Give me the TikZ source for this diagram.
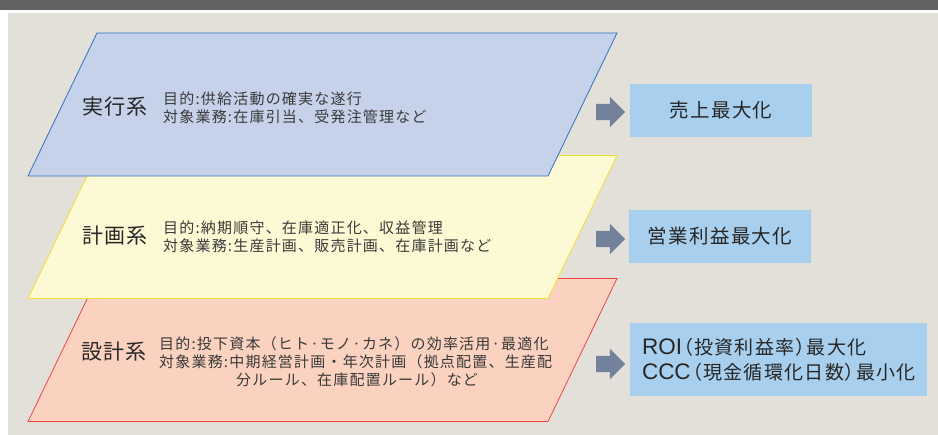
\documentclass[tikz,border=0pt]{standalone}
\usepackage{fontspec}
\setmainfont{Noto Sans CJK JP}
\newfontfamily\titlefont[LetterSpace=6]{Noto Sans CJK JP}
\newfontfamily\detailfont[LetterSpace=8]{Noto Sans CJK JP}
\newfontfamily\goalfont[LetterSpace=7,RawFeature=+palt]{Noto Sans CJK JP}
\newfontfamily\latinfont{Liberation Sans}
\usetikzlibrary{shapes.arrows}

\definecolor{barGray}{HTML}{626262}
\definecolor{panelBg}{HTML}{E3E0DA}
\definecolor{execFill}{HTML}{C5D2E9}
\definecolor{execLine}{HTML}{2C73C2}
\definecolor{planFill}{HTML}{FEF9D5}
\definecolor{planLine}{HTML}{F2E030}
\definecolor{designFill}{HTML}{FBD2C0}
\definecolor{designLine}{HTML}{EC4747}
\definecolor{arrowGray}{HTML}{74819A}
\definecolor{goalBlue}{HTML}{A8CFEE}
\definecolor{inkDark}{HTML}{262626}
\definecolor{inkSoft}{HTML}{3A3A3A}

\newcommand{\lat}[1]{{\latinfont\fontsize{22.5}{25}\selectfont #1}\kern1.5pt}

\begin{document}
\begin{tikzpicture}[
	x=1pt, y=-1pt,
	layer/.style={line width=0.8pt},
	title/.style={anchor=west, inner sep=0pt, text=inkDark,
		font=\titlefont\fontsize{21}{24}\selectfont},
	detail/.style={anchor=west, inner sep=0pt, align=left, text=inkSoft,
		font=\detailfont\fontsize{15}{17.5}\selectfont},
	goal/.style={fill=goalBlue, minimum width=182pt, minimum height=53pt,
		text=inkDark, font=\goalfont\fontsize{19.5}{25}\selectfont},
	grayarrow/.style={single arrow, fill=arrowGray, inner xsep=0pt, inner ysep=8pt,
		text height=0pt, text depth=0pt, minimum height=29pt,
		single arrow head extend=7pt},
	]
	\useasboundingbox (0,0) rectangle (938,435);
	\fill[white] (0,0) rectangle (938,435);
	\fill[barGray] (0,0) rectangle (938,10);
	\fill[panelBg] (8,13) rectangle (938,435);

	% layers, bottom one first
	\filldraw[layer, fill=designFill, draw=designLine]
		(97,278.5) -- (617,278.5) -- (548,421.5) -- (28,421.5) -- cycle;
	\filldraw[layer, fill=planFill, draw=planLine]
		(97,155.5) -- (617,155.5) -- (548,298.5) -- (28,298.5) -- cycle;
	\filldraw[layer, fill=execFill, draw=execLine]
		(97,33) -- (617,33) -- (548,176) -- (28,176) -- cycle;

	\node[title] (exec) at (82,107) {実行系};
	\node[detail] (execText) at (163,108) {目的:供給活動の確実な遂行\\対象業務:在庫引当、受発注管理など};

	\node[title] (plan) at (82,236) {計画系};
	\node[detail] (planText) at (163,237) {目的:納期順守、在庫適正化、収益管理\\対象業務:生産計画、販売計画、在庫計画など};

	\node[title] (design) at (81,352) {設計系};
	\node[detail, font=\detailfont\fontsize{15}{18}\selectfont] (designText) at (159,362)
		{目的:投下資本（ヒト·モノ·カネ）の効率活用·最適化\\対象業務:中期経営計画・年次計画（拠点配置、生産配\\\hspace*{77pt}分ルール、在庫配置ルール）など};

	% goals
	\node[goal] (sales) at (721,110.5) {売上最大化};
	\node[goal] (profit) at (720,236.5) {営業利益最大化};
	\node[goal, minimum width=297pt, minimum height=73pt, text width=273pt,
		align=left, inner xsep=12pt, font=\goalfont\fontsize{19}{25}\selectfont] (roi) at (778.5,359.5)
		{\lat{ROI}（投資利益率）最大化\\\lat{CCC}（現金循環化日数）最小化};

	\node[grayarrow] (toSales) at (606.5,112) {};
	\node[grayarrow] (toProfit) at (606.5,239) {};
	\node[grayarrow] (toRoi) at (606.5,364) {};
\end{tikzpicture}
\end{document}
